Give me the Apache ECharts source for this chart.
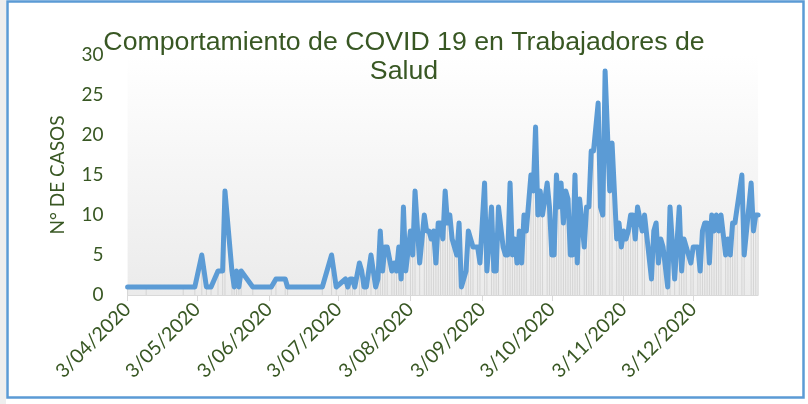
<!DOCTYPE html>
<html>
<head>
<meta charset="utf-8">
<script src="https://cdn.jsdelivr.net/npm/echarts@6/dist/echarts.min.js"></script>
<style>
html,body{margin:0;padding:0;background:#ffffff;}
#c{width:808px;height:404px;}
</style>
</head>
<body>
<div id="c"></div>
<script>
// ---- data ----
const dates = [
'2020-04-03','2020-04-11','2020-04-27','2020-05-02','2020-05-05','2020-05-07','2020-05-09','2020-05-12','2020-05-14','2020-05-15',
'2020-05-18','2020-05-19','2020-05-20','2020-05-21','2020-05-22','2020-05-27','2020-06-04','2020-06-06','2020-06-10','2020-06-11',
'2020-06-26','2020-06-30','2020-07-02','2020-07-06','2020-07-07','2020-07-08','2020-07-09','2020-07-10','2020-07-12','2020-07-13',
'2020-07-14','2020-07-15','2020-07-17','2020-07-19','2020-07-20','2020-07-21','2020-07-22','2020-07-23','2020-07-24','2020-07-26',
'2020-07-27','2020-07-28','2020-07-29','2020-07-30','2020-07-31','2020-08-01','2020-08-03','2020-08-04','2020-08-05','2020-08-07',
'2020-08-09','2020-08-10','2020-08-11','2020-08-12','2020-08-13','2020-08-14','2020-08-15','2020-08-16','2020-08-17','2020-08-18',
'2020-08-19','2020-08-20','2020-08-21','2020-08-22','2020-08-23','2020-08-24','2020-08-25','2020-08-27','2020-08-28','2020-08-29',
'2020-08-30','2020-09-01','2020-09-02','2020-09-04','2020-09-05','2020-09-07','2020-09-08','2020-09-09','2020-09-10','2020-09-12',
'2020-09-13','2020-09-14','2020-09-15','2020-09-16','2020-09-17','2020-09-18','2020-09-19','2020-09-20','2020-09-21','2020-09-22',
'2020-09-24','2020-09-25','2020-09-26','2020-09-27','2020-09-28','2020-09-29','2020-10-01','2020-10-02','2020-10-03','2020-10-04',
'2020-10-05','2020-10-06','2020-10-07','2020-10-08','2020-10-09','2020-10-10','2020-10-11','2020-10-12','2020-10-13','2020-10-14',
'2020-10-15','2020-10-17','2020-10-18','2020-10-19','2020-10-20','2020-10-21','2020-10-23','2020-10-24','2020-10-25','2020-10-26',
'2020-10-28','2020-10-29','2020-10-31','2020-11-01','2020-11-02','2020-11-03','2020-11-04','2020-11-05','2020-11-06','2020-11-07',
'2020-11-08','2020-11-09','2020-11-11','2020-11-12','2020-11-15','2020-11-16','2020-11-17','2020-11-18','2020-11-19','2020-11-20',
'2020-11-22','2020-11-23','2020-11-25','2020-11-27','2020-11-28','2020-11-29','2020-11-30','2020-12-02','2020-12-03','2020-12-05',
'2020-12-06','2020-12-07','2020-12-08','2020-12-09','2020-12-10','2020-12-11','2020-12-12','2020-12-13','2020-12-14','2020-12-15',
'2020-12-17','2020-12-18','2020-12-19','2020-12-20','2020-12-21','2020-12-22','2020-12-24','2020-12-25','2020-12-28','2020-12-29',
'2020-12-30','2020-12-31'
];
const cases = [
1,1,1,1,5,1,1,3,3,13,
3,1,3,1,3,1,1,2,2,1,
1,5,1,2,1,2,2,1,4,3,
1,1,5,1,2,8,3,6,6,3,
4,3,6,2,11,3,8,5,13,4,
10,8,8,7,8,4,9,9,7,13,
9,10,7,6,5,9,1,3,8,7,
6,6,4,14,3,11,3,3,11,6,
5,5,14,5,7,4,8,4,10,8,
15,13,21,10,13,10,14,11,5,5,
15,11,14,9,13,12,5,5,15,4,
12,6,11,11,18,18,24,11,10,28,
13,19,7,9,6,8,7,8,10,10,
7,11,8,10,2,8,9,4,7,6,
1,11,2,11,3,7,6,4,6,6,
3,8,9,9,4,10,8,10,8,10,
5,7,5,9,9,11,15,5,14,8,
10,10
];
const axisStart = '2020-04-03';
const axisEnd = '2020-12-31';
const tickDates = ['2020-04-03','2020-05-03','2020-06-03','2020-07-03','2020-08-03','2020-09-03','2020-10-03','2020-11-03','2020-12-03'];
const yMin = 0, yMax = 30, yStep = 5;
const titleText = 'Comportamiento de COVID 19 en Trabajadores de\nSalud';
const yName = 'N° DE CASOS';

// ---- helpers ----
function toTs(s){ const p = s.split('-').map(Number); return Date.UTC(p[0], p[1]-1, p[2]); }
function fmt(v){ const d = new Date(v); return d.getUTCDate() + '/' + String(d.getUTCMonth()+1).padStart(2,'0') + '/' + d.getUTCFullYear(); }
const seriesData = dates.map((d,i)=>[toTs(d), cases[i]]);
const tickTs = tickDates.map(toTs);

const green = '#385723';
const chart = echarts.init(document.getElementById('c'), null, {renderer:'canvas'});
chart.setOption({
  backgroundColor: '#ffffff',
  animation: false,
  title: {
    text: titleText,
    left: 'center',
    top: 23,
    textStyle: {fontFamily: 'Liberation Sans', fontSize: 26.7, fontWeight: 'normal', color: green, lineHeight: 29}
  },
  grid: {
    left: 127.6, right: 49.9, top: 55, bottom: 109,
    show: true, borderWidth: 0,
    backgroundColor: {type:'linear', x:0, y:0, x2:0, y2:1, colorStops:[{offset:0,color:'#ffffff'},{offset:1,color:'#ebebeb'}]}
  },
  xAxis: {
    type: 'value',
    min: toTs(axisStart), max: toTs(axisEnd),
    splitLine: {show:false},
    axisLine: {show:true, lineStyle:{color:'#d9d9d9', width:1}},
    axisTick: {show:true, length:6, lineStyle:{color:'#d9d9d9'}, customValues: tickTs},
    axisLabel: {customValues: tickTs, rotate: 45, formatter: fmt, color: green, fontSize: 19.5, fontFamily: 'Lato', margin: 11}
  },
  yAxis: {
    type: 'value', min: yMin, max: yMax, interval: yStep,
    splitLine: {show:false}, axisLine: {show:false}, axisTick: {show:false},
    axisLabel: {color: green, fontSize: 19, fontFamily: 'Lato', margin: 24},
    name: yName, nameLocation: 'middle', nameRotate: 90, nameGap: 60,
    nameTextStyle: {color: green, fontSize: 19, fontFamily: 'Lato'}
  },
  series: [
    {type:'bar', data: seriesData, barWidth: 1, itemStyle:{color:'#d4d4d4'}, silent:true, z:1},
    {type:'line', data: seriesData, showSymbol:false, lineStyle:{color:'#5B9BD5', width:5, join:'round', cap:'round'}, itemStyle:{color:'#5B9BD5'}, z:2}
  ],
  graphic: [
    {type:'rect', silent:true, shape:{x:0, y:0, width:6, height:404}, style:{fill:'#eeeeee'}},
    {type:'rect', silent:true, shape:{x:7.5, y:1.5, width:796, height:396}, style:{fill:'none', stroke:'#5B9BD5', lineWidth:2.5}}
  ]
});
</script>
</body>
</html>
